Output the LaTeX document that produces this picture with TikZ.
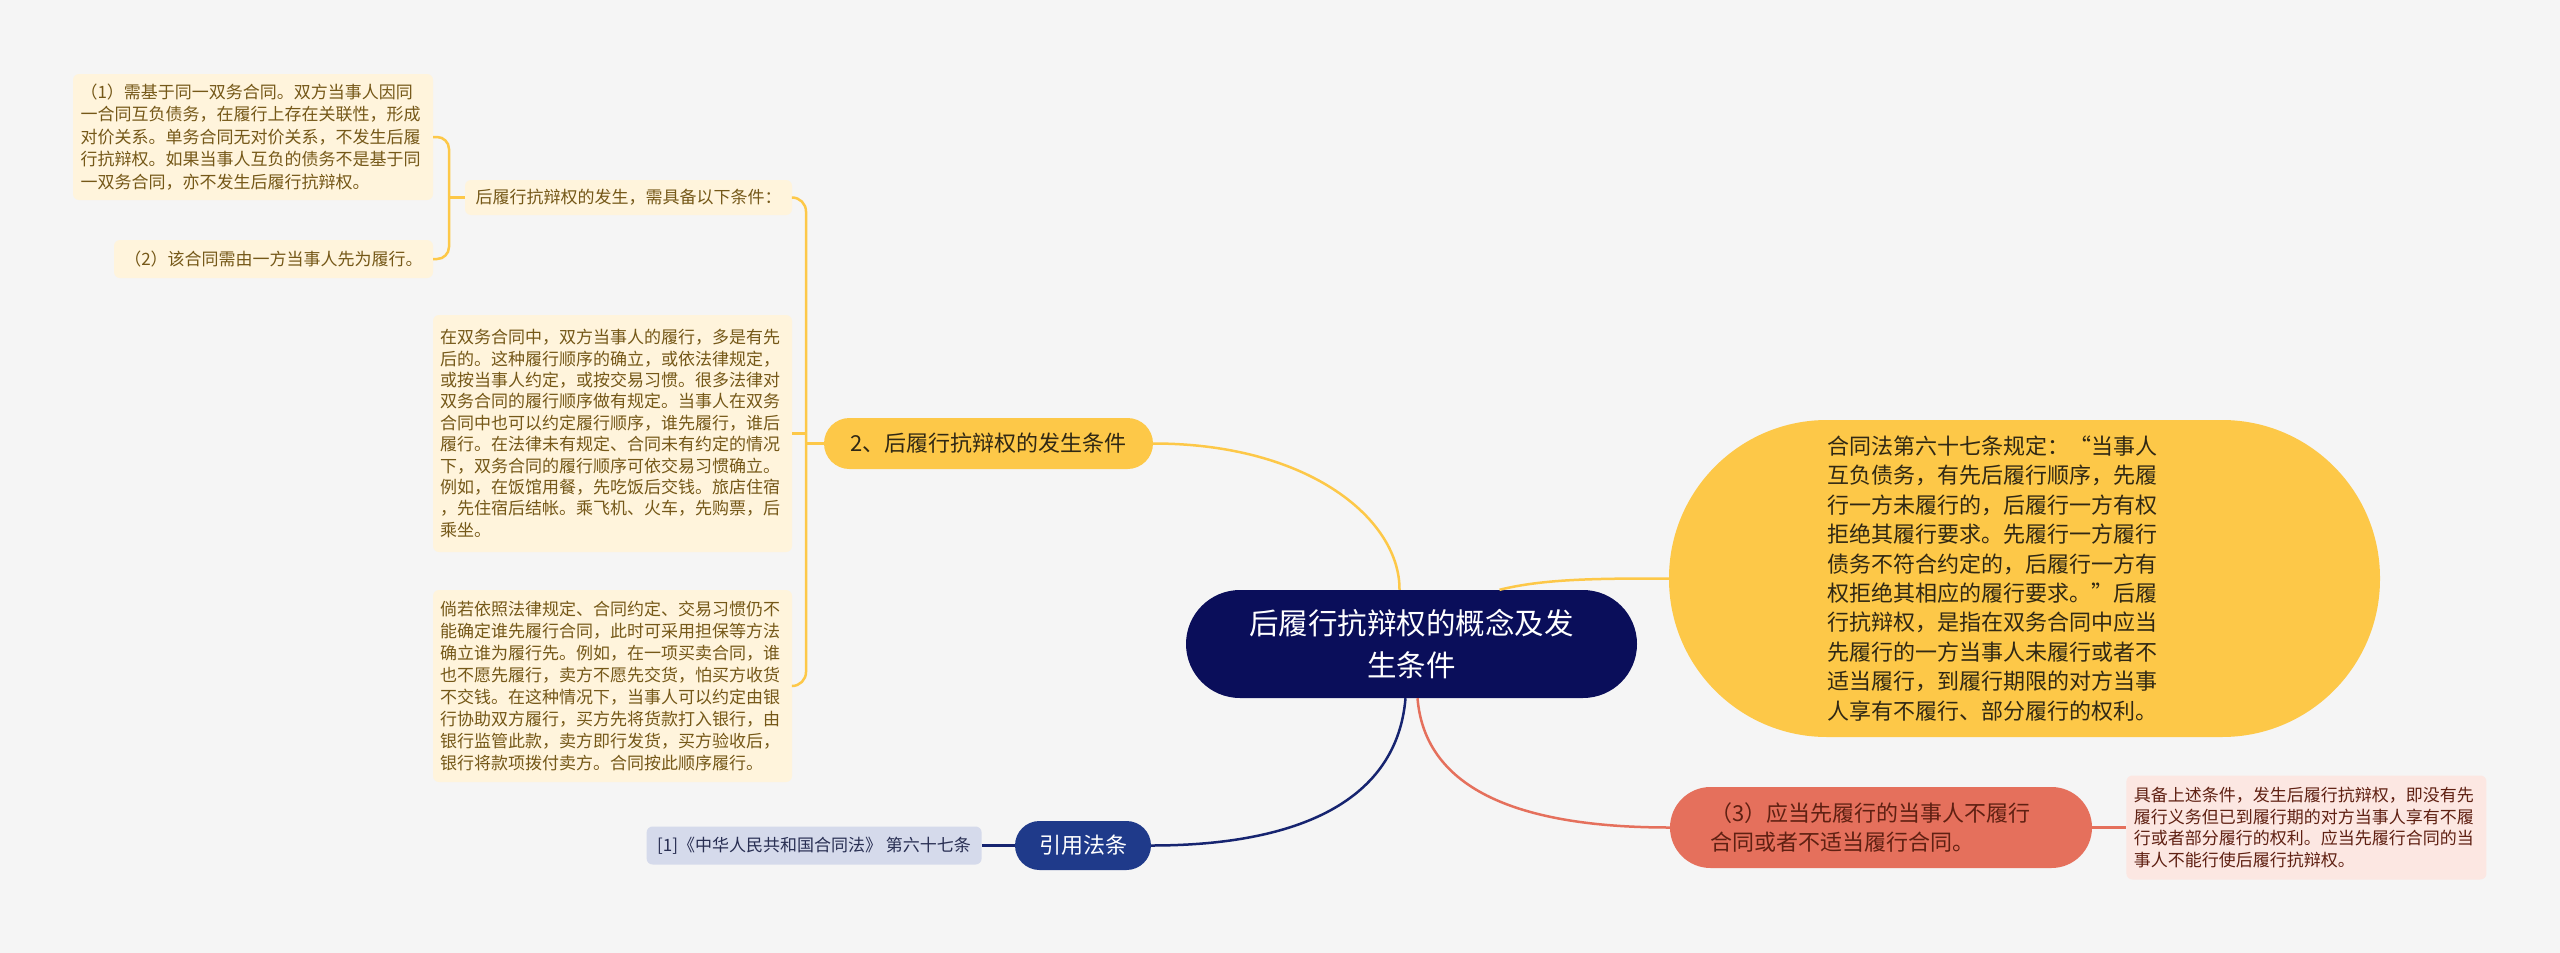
\documentclass[tikz,border=0pt]{standalone}
\usepackage{fontspec}
\setmainfont{Noto Sans CJK SC}
\usepackage{tikz}
\usetikzlibrary{positioning}
\usepackage{xcolor}
\definecolor{bggray}{RGB}{245,245,245}
\definecolor{navy}{RGB}{10,14,90}
\definecolor{amber}{RGB}{253,200,72}
\definecolor{paleamber}{RGB}{255,244,220}
\definecolor{ambertext}{RGB}{117,88,24}
\definecolor{darktext}{RGB}{48,40,20}
\definecolor{coral}{RGB}{229,112,92}
\definecolor{palecoral}{RGB}{252,231,226}
\definecolor{coraltext}{RGB}{95,32,18}
\definecolor{royal}{RGB}{31,58,138}
\definecolor{paleroyal}{RGB}{213,218,235}
\definecolor{royaltext}{RGB}{40,46,82}
\definecolor{linknavy}{RGB}{22,36,112}

\tikzset{
  box/.style={rectangle, inner sep=0pt, align=left},
  rootbox/.style={box, fill=navy, text=white, align=center, minimum width=451pt, minimum height=108pt, rounded corners=54pt, font=\fontsize{29.5pt}{42pt}\selectfont},
  mainbox/.style={box, fill=amber, text=darktext, font=\fontsize{22pt}{29.4pt}\selectfont},
  leafbox/.style={box, fill=paleamber, text=ambertext, rounded corners=6pt, font=\fontsize{17pt}{21.6pt}\selectfont},
  ylink/.style={draw=amber, line width=2.5pt},
}

\begin{document}
\begin{tikzpicture}[x=1pt, y=-1pt]
  \useasboundingbox (0,0) rectangle (2560,953);
  \fill[bggray] (0,0) rectangle (2560,953);

  % Centre and first-level topics
  \node[rootbox] (root) at (1411.5,644) {后履行抗辩权的概念及发\\生条件};
  \node[mainbox, minimum width=329pt, minimum height=51pt, rounded corners=25.5pt] (cond) at (988.5,443.5) {2、后履行抗辩权的发生条件};
  \node[mainbox, text width=394pt, minimum width=711pt, minimum height=317pt, rounded corners=158pt] (law) at (2024.5,578.5)
    {合同法第六十七条规定：“当事人\\互负债务，有先后履行顺序，先履\\行一方未履行的，后履行一方有权\\拒绝其履行要求。先履行一方履行\\债务不符合约定的，后履行一方有\\权拒绝其相应的履行要求。”后履\\行抗辩权，是指在双务合同中应当\\先履行的一方当事人未履行或者不\\适当履行，到履行期限的对方当事\\人享有不履行、部分履行的权利。};
  \node[mainbox, fill=coral, text=coraltext, text width=342pt, minimum width=422pt, minimum height=81pt, rounded corners=40.5pt] (perform) at (1881,827.5)
    {（3）应当先履行的当事人不履行\\合同或者不适当履行合同。};
  \node[box, fill=royal, text=white, minimum width=136pt, minimum height=49pt, rounded corners=24.5pt, font=\fontsize{22pt}{26pt}\selectfont] (cite) at (1083,845.5) {引用法条};

  % Leaves
  \node[leafbox, fill=palecoral, text=coraltext, text width=345pt, minimum width=360pt, minimum height=104pt, right=34pt of perform] (explain)
    {具备上述条件，发生后履行抗辩权，即没有先\\履行义务但已到履行期的对方当事人享有不履\\行或者部分履行的权利。应当先履行合同的当\\事人不能行使后履行抗辩权。};
  \node[leafbox, fill=paleroyal, text=royaltext, minimum width=335pt, minimum height=38pt, left=33pt of cite] (lawref) {[1]《中华人民共和国合同法》 第六十七条};
  \node[leafbox, minimum width=327pt, minimum height=35pt] (needs) at (628.5,197.5) {后履行抗辩权的发生，需具备以下条件：};
  \node[leafbox, text width=345pt, minimum width=359pt, minimum height=237pt, font=\fontsize{17pt}{21.4pt}\selectfont] (order) at (612.5,433.5)
    {在双务合同中，双方当事人的履行，多是有先\\后的。这种履行顺序的确立，或依法律规定，\\或按当事人约定，或按交易习惯。很多法律对\\双务合同的履行顺序做有规定。当事人在双务\\合同中也可以约定履行顺序，谁先履行，谁后\\履行。在法律未有规定、合同未有约定的情况\\下，双务合同的履行顺序可依交易习惯确立。\\例如，在饭馆用餐，先吃饭后交钱。旅店住宿\\，先住宿后结帐。乘飞机、火车，先购票，后\\乘坐。};
  \node[leafbox, text width=345pt, minimum width=359pt, minimum height=192pt, font=\fontsize{17pt}{21.9pt}\selectfont] (guarantee) at (612.5,686)
    {倘若依照法律规定、合同约定、交易习惯仍不\\能确定谁先履行合同，此时可采用担保等方法\\确立谁为履行先。例如，在一项买卖合同，谁\\也不愿先履行，卖方不愿先交货，怕买方收货\\不交钱。在这种情况下，当事人可以约定由银\\行协助双方履行，买方先将货款打入银行，由\\银行监管此款，卖方即行发货，买方验收后，\\银行将款项拨付卖方。合同按此顺序履行。};
  \node[leafbox, text width=345pt, minimum width=360pt, minimum height=126pt, font=\fontsize{17pt}{22.5pt}\selectfont] (cond1) at (253,137)
    {（1）需基于同一双务合同。双方当事人因同\\一合同互负债务，在履行上存在关联性，形成\\对价关系。单务合同无对价关系，不发生后履\\行抗辩权。如果当事人互负的债务不是基于同\\一双务合同，亦不发生后履行抗辩权。};
  \node[leafbox, minimum width=319pt, minimum height=38pt] (cond2) at (273.5,259) {（2）该合同需由一方当事人先为履行。};

  % Links from the centre
  \draw[ylink] (cond.east) .. controls (1310,443.5) and (1400,520) .. ([xshift=-12pt]root.north);
  \draw[ylink] ([xshift=88pt]root.north) .. controls (1545,578.5) and (1600,578.5) .. (law.west);
  \draw[draw=coral, line width=2.5pt] ([xshift=6pt]root.south) .. controls (1425,790) and (1520,827.5) .. (perform.west);
  \draw[draw=linknavy, line width=2.5pt] ([xshift=-6pt]root.south) .. controls (1397,800) and (1300,845.5) .. (cite.east);

  % Leaf links
  \draw[draw=coral, line width=2.5pt] (perform.east) -- (explain.west);
  \draw[draw=linknavy, line width=2.5pt] (lawref.east) -- (cite.west);
  \coordinate (bar1) at (449,197.5);
  \coordinate (bar2) at (806,443.5);
  \draw[ylink] (needs.west) -- (bar1);
  \draw[ylink, rounded corners=12pt] (cond1.east) -| (bar1) |- (cond2.east);
  \draw[ylink] (cond.west) -- (bar2);
  \draw[ylink, rounded corners=14pt] (needs.east) -| (bar2) |- (guarantee.east);
  \draw[ylink] (order.east) -- (order.east -| bar2);
\end{tikzpicture}
\end{document}
